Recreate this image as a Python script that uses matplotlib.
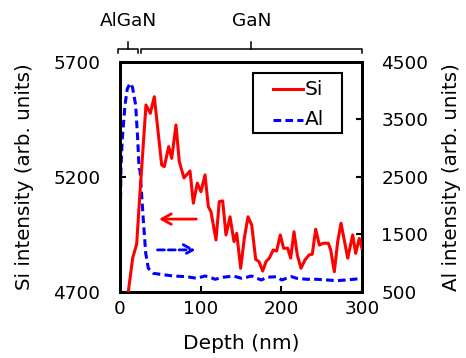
import matplotlib
matplotlib.use("Agg")
import matplotlib.pyplot as plt
from matplotlib.patches import Rectangle

plt.rcParams['font.family'] = ['DejaVu Sans']

# ---- data ----
si_depth = [8, 10.3, 15.7, 20.7, 23.9, 32.2, 37.6, 42.5, 51.7, 54.9, 60.4, 64.1, 69.4, 73.5,
            79.3, 86.8, 90.9, 95.8, 100.4, 105.4, 109.5, 112.8, 119.0, 123.1, 127.3, 131.4,
            136.4, 141.3, 144.7, 149.6, 154.1, 158.7, 163.3, 168.2, 172.3, 176.9, 181.0,
            185.1, 190.0, 194.2, 198.7, 202.9, 207.9, 211.6, 215.7, 219.8, 224.4, 229.3,
            234.3, 238.4, 242.6, 247.1, 252.0, 258.2, 261.2, 265.7, 269.9, 274.0, 278.0,
            282.3, 288.5, 292.2, 296.6, 300.0]
si_vals = [4640, 4701, 4847, 4909, 5086, 5513, 5477, 5549, 5252, 5245, 5332, 5281, 5426, 5267,
           5196, 5226, 5086, 5173, 5136, 5209, 5071, 5049, 4926, 5093, 5096, 4948,
           5027, 4919, 4955, 4803, 4933, 5027, 4991, 4842, 4832, 4791, 4832,
           4847, 4883, 4878, 4948, 4890, 4890, 4847, 4962, 4861, 4803, 4839,
           4861, 4864, 4973, 4904, 4912, 4912, 4883, 4788, 4919, 4999, 4926,
           4847, 4948, 4868, 4933, 4890]

al_depth = [0, 1.2, 2.9, 6.2, 9.0, 12.4, 15.5, 19.4, 21.9, 23.6, 24.8, 28.9, 31.9, 35.1,
            37.2, 41.3, 49.6, 66.1, 82.6, 95.0, 105.4, 111.6, 117.8, 128.1, 140.5, 150.8,
            157.0, 163.2, 169.4, 175.6, 181.8, 194.2, 200.4, 206.6, 212.8, 219.0, 231.4,
            243.8, 256.2, 268.6, 281.0, 293.4, 300.0]
al_vals = [1290, 2657, 3173, 3752, 4030, 4130, 4060, 3752, 3173, 2651, 2622, 1752, 1173, 912,
           883, 825, 808, 778, 766, 738, 778, 756, 721, 756, 778, 738,
           756, 778, 738, 709, 756, 766, 709, 738, 766, 738, 721,
           721, 709, 697, 709, 726, 738]

x_ticks = [0, 100, 200, 300]
si_ticks = [4700, 5200, 5700]
al_ticks = [500, 1500, 2500, 3500, 4500]
series_names = ['Si', 'Al']
layer_names = ['AlGaN', 'GaN']

RED = '#ff0000'
BLUE = '#0000ff'
DASH = (0, (2.5, 1.4))

fig = plt.figure(figsize=(4.66, 3.58), dpi=100)
ax = fig.add_axes([0.2575, 0.1844, 0.5193, 0.6425])
ax2 = ax.twinx()

ax.plot(si_depth, si_vals, color=RED, lw=2.2, zorder=3)
ax2.plot(al_depth, al_vals, color=BLUE, lw=2.2, linestyle=DASH)

ax.set_xlim(0, 300)
ax.set_ylim(4700, 5700)
ax2.set_ylim(500, 4500)
ax.set_xticks(x_ticks)
ax.set_yticks(si_ticks)
ax2.set_yticks(al_ticks)

fs = 13.3
for a in (ax, ax2):
    for s in a.spines.values():
        s.set_linewidth(2.0)
ax.tick_params(axis='both', direction='in', length=4, width=1.5, labelsize=fs, pad=6)
ax.tick_params(axis='y', pad=14)
ax2.tick_params(axis='y', direction='in', length=4, width=1.5, labelsize=fs, pad=14)

ax.set_xlabel('Depth (nm)', fontsize=14.5, labelpad=11)
ax.set_ylabel('Si intensity (arb. units)', fontsize=14.3, labelpad=14)
ax2.set_ylabel('Al intensity (arb. units)', fontsize=14.3, labelpad=10)

# arrows
ax.annotate('', xy=(45, 5017), xytext=(98, 5017),
            arrowprops=dict(arrowstyle='->,head_length=0.45,head_width=0.25',
                            color=RED, lw=2.0, mutation_scale=15))
ax.annotate('', xy=(97, 4883), xytext=(43, 4883),
            arrowprops=dict(arrowstyle='->,head_length=0.45,head_width=0.25',
                            color=BLUE, lw=2.0, linestyle=DASH,
                            mutation_scale=15))

# layer brackets above axes
trans = ax.get_xaxis_transform()
def bracket(x0, x1, yb, ye, yt):
    xm = (x0 + x1) / 2
    ax.plot([x0, x0, x1, x1], [ye, yb, yb, ye], color='black', lw=1.1,
            transform=trans, clip_on=False)
    ax.plot([xm, xm], [yb, yt], color='black', lw=1.1, transform=trans, clip_on=False)
    return xm

m1 = bracket(-2, 22.5, 1.0565, 1.038, 1.087)
m2 = bracket(26, 299.5, 1.0565, 1.038, 1.087)
ax.text(m1, 1.18, layer_names[0], transform=trans, ha='center', va='center', fontsize=fs)
ax.text(m2, 1.18, layer_names[1], transform=trans, ha='center', va='center', fontsize=fs)

# legend box (drawn in axes fraction)
ax.add_patch(Rectangle((0.548, 0.690), 0.9186 - 0.548, 0.951 - 0.690,
                       transform=ax.transAxes, facecolor='white', edgecolor='black',
                       lw=1.5, zorder=5))
for name, col, ls, yy in [(series_names[0], RED, '-', 0.881),
                          (series_names[1], BLUE, DASH, 0.748)]:
    ax.plot([0.631, 0.755], [yy, yy], color=col, lw=2.2, linestyle=ls,
            transform=ax.transAxes, zorder=6)
    ax.text(0.762, yy, name, transform=ax.transAxes, ha='left', va='center',
            fontsize=14.5, zorder=6)

ax.set_zorder(ax2.get_zorder() + 1)
ax.patch.set_visible(False)

fig.savefig('out.png', dpi=100)
